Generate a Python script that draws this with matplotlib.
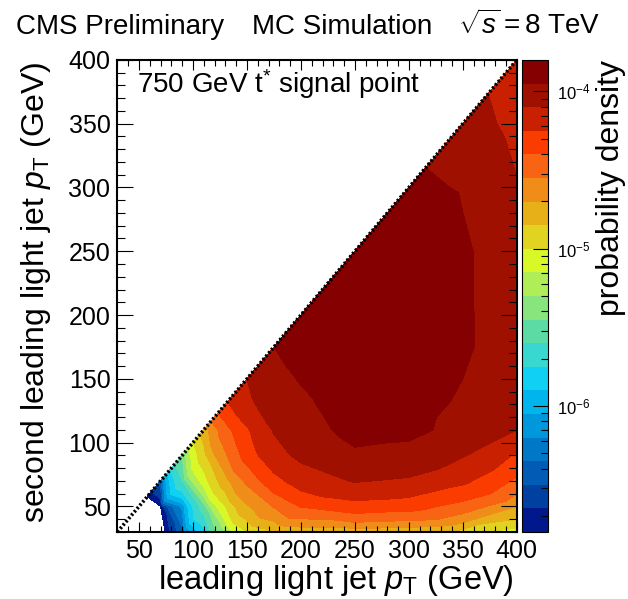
import numpy as np
import matplotlib.pyplot as plt
import matplotlib.tri as mtri
from matplotlib.colors import ListedColormap, LogNorm
from matplotlib.ticker import LogLocator, MultipleLocator, NullFormatter

plt.rcParams['font.family'] = ['Liberation Sans', 'DejaVu Sans']
plt.rcParams['mathtext.fontset'] = 'custom'
plt.rcParams['mathtext.rm'] = 'Liberation Sans'
plt.rcParams['mathtext.it'] = 'Liberation Sans:italic'
plt.rcParams['mathtext.bf'] = 'Liberation Sans:bold'

# pT nodes in GeV, used for both jets
pt_nodes = [30, 50, 70, 90, 110, 130, 150, 175, 200, 250, 300, 350, 400]

# log10 of the probability density, one row per second-jet pT node;
# each row starts at leading pT = second pT and runs up to 400 GeV
log_density = [
    [-8.60, -7.78, -7.01, -6.41, -5.81, -5.30, -5.00, -4.87, -4.82, -4.80, -4.84, -4.93, -5.09],
    [-7.55, -6.80, -6.17, -5.53, -5.00, -4.72, -4.54, -4.39, -4.31, -4.34, -4.46, -4.70],
    [-6.43, -5.60, -5.08, -4.76, -4.52, -4.30, -4.18, -4.09, -4.12, -4.22, -4.43],
    [-5.45, -4.90, -4.57, -4.34, -4.15, -4.07, -3.97, -3.99, -4.09, -4.27],
    [-4.79, -4.46, -4.27, -4.09, -4.01, -3.91, -3.92, -3.99, -4.10],
    [-4.28, -4.13, -4.04, -3.98, -3.88, -3.88, -3.98, -4.06],
    [-4.10, -4.00, -3.94, -3.86, -3.85, -3.95, -4.03],
    [-3.95, -3.89, -3.85, -3.84, -3.935, -4.01],
    [-3.91, -3.85, -3.84, -3.935, -4.01],
    [-3.88, -3.85, -3.935, -4.02],
    [-3.92, -3.96, -4.09],
    [-4.025, -4.15],
    [-4.205],
]

# colour scale: 20 bands between these two log10 limits
log_zmin, log_zmax = -6.80, -3.80
palette = ['#00188c', '#0040a0', '#005cb4', '#0078c8', '#0098dc', '#00b4ec',
           '#10d0f4', '#38d8d0', '#5cdca4', '#88e47c', '#b0ee58', '#d8f828',
           '#e0d420', '#e8b018', '#f08c18', '#f86414', '#fa3c00', '#c82000',
           '#a01000', '#850000']

pt_min, pt_max = 30, 400

xs, ys, zs = [], [], []
for i, row in enumerate(log_density):
    for j, val in enumerate(row):
        xs.append(pt_nodes[i + j])
        ys.append(pt_nodes[i])
        zs.append(10 ** val)
tri = mtri.Triangulation(xs, ys)

fig = plt.figure(figsize=(6.28, 5.99), dpi=100)
ax = fig.add_axes([0.187, 0.112, 0.636, 0.788])
cax = fig.add_axes([0.831, 0.112, 0.041, 0.788])

levels = np.logspace(log_zmin, log_zmax, len(palette) + 1)
cs = ax.tricontourf(tri, zs, levels=levels, cmap=ListedColormap(palette),
                    norm=LogNorm(levels[0], levels[-1]))

# y = x boundary
ax.plot([pt_min, pt_max], [pt_min, pt_max], color='black', lw=2.6,
        dashes=(0.6, 0.6), solid_capstyle='butt')

ax.set_xlim(pt_min, pt_max)
ax.set_ylim(pt_min, pt_max)
for a in (ax.xaxis, ax.yaxis):
    a.set_major_locator(MultipleLocator(50))
    a.set_minor_locator(MultipleLocator(10))
ax.tick_params(which='both', direction='in', top=True, right=True,
               labelsize=18, width=0.8)
ax.tick_params(axis='x', which='major', length=7.5, pad=5)
ax.tick_params(axis='x', which='minor', length=4)
ax.tick_params(axis='y', which='major', length=11.5, pad=5)
ax.tick_params(axis='y', which='minor', length=5.8)
for s in ax.spines.values():
    s.set_linewidth(1.5)

cb = fig.colorbar(cs, cax=cax)
cb.outline.set_linewidth(0.8)
cax.yaxis.set_major_locator(LogLocator(base=10))
cax.yaxis.set_minor_locator(LogLocator(base=10, subs=np.arange(2, 10)))
cax.yaxis.set_minor_formatter(NullFormatter())
cax.tick_params(which='both', direction='in', right=True, left=False,
                labelsize=12, width=0.8, pad=7)
cax.tick_params(which='major', length=11)
cax.tick_params(which='minor', length=5)

fig.text(16 / 628, 1 - 34 / 599, 'CMS Preliminary', fontsize=20, va='baseline')
fig.text(252 / 628, 1 - 34 / 599, 'MC Simulation', fontsize=20, va='baseline')
fig.text(458 / 628, 1 - 34 / 599, r'$\sqrt{s} = 8$ TeV', fontsize=20, va='baseline')

fig.text(137 / 628, 1 - 93 / 599, r'750 GeV t$^{*}$ signal point', fontsize=20,
         va='baseline')

fig.text(514 / 628, 1 - 589 / 599, r'leading light jet $p_{\mathrm{T}}$ (GeV)',
         fontsize=23.5, ha='right', va='baseline')
fig.text(36 / 628, 1 - 62 / 599, r'second leading light jet $p_{\mathrm{T}}$ (GeV)',
         fontsize=23, rotation=90, ha='center', va='top')
fig.text(611 / 628, 1 - 60 / 599, 'probability density', fontsize=23,
         rotation=90, ha='center', va='top')

fig.savefig('out.png', dpi=100)
